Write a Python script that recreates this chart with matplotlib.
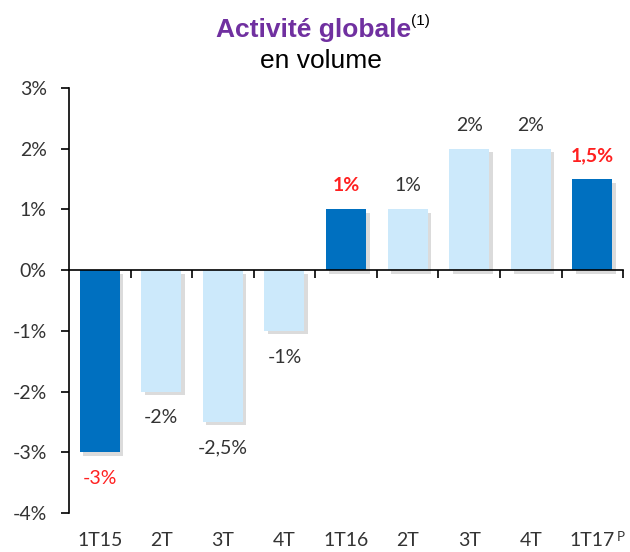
import matplotlib.pyplot as plt
import matplotlib.patheffects as pe
import numpy as np

categories = ['1T15', '2T', '3T', '4T', '1T16', '2T', '3T', '4T', '1T17']
values = [-3, -2, -2.5, -1, 1, 1, 2, 2, 1.5]
labels = ['-3%', '-2%', '-2,5%', '-1%', '1%', '1%', '2%', '2%', '1,5%']
highlight = [True, False, False, False, True, False, False, False, True]
yticks = [-4, -3, -2, -1, 0, 1, 2, 3]

dark = '#0070C0'
light = '#CCE9FB'
font = 'Lato'

fig = plt.figure(figsize=(6.3, 5.52), dpi=100)
ax = fig.add_axes([0.1095, 0.0707, 0.8795, 0.7699])

x = np.arange(len(categories))
shadow = [pe.SimplePatchShadow(offset=(2.5, -2.5), shadow_rgbFace='#999999', alpha=0.35), pe.Normal()]
bars = ax.bar(x, values, width=0.65, color=[dark if h else light for h in highlight], zorder=2)
for b in bars:
    b.set_path_effects(shadow)

for i, (v, lab, h) in enumerate(zip(values, labels, highlight)):
    off = 17 if v > 0 else -19
    color = '#FF2020' if h else '#333333'
    weight = 'bold' if (h and v > 0) else 'normal'
    ax.annotate(lab, (i, v), xytext=(0, off), textcoords='offset points',
                ha='center', va='center', fontsize=14, color=color,
                fontweight=weight, family=font)

ax.set_xlim(-0.5, len(categories) - 0.5)
ax.set_ylim(-4, 3)
ax.set_yticks(yticks)
ax.set_yticklabels([f'{t}%' for t in yticks], family=font, fontsize=14, color='#333333')
ax.tick_params(axis='y', direction='out', length=6, width=1.2, pad=10)

ax.spines['top'].set_visible(False)
ax.spines['right'].set_visible(False)
ax.spines['bottom'].set_position(('data', 0))
ax.spines['left'].set_linewidth(1.2)
ax.spines['bottom'].set_linewidth(1.2)
ax.set_xticks(x)
ax.set_xticklabels([])
ax.tick_params(axis='x', which='major', length=0)
ax.set_xticks(np.arange(0.5, len(categories)), minor=True)
ax.tick_params(axis='x', which='minor', direction='out', length=6, width=1.2)

for i, c in enumerate(categories):
    ax.text(i, -4.46, c, ha='center', va='center', fontsize=14, family=font,
            color='#333333', clip_on=False)
ax.text(len(categories) - 1 + 0.4, -4.39, 'P', ha='left', va='center', fontsize=9.5,
        family=font, color='#333333', clip_on=False)

title = fig.text(0.497, 0.945, 'Activité globale', ha='center', va='center', fontsize=19,
                 fontweight='bold', color='#7030A0', family='Liberation Sans')
fig.text(0.51, 0.89, 'en volume', ha='center', va='center', fontsize=19,
         family='Liberation Sans')
fig.canvas.draw()
ax.annotate('(1)', xy=(1, 1), xycoords=title, xytext=(0.5, 3), textcoords='offset points',
            ha='left', va='top', fontsize=11, family='Liberation Sans', annotation_clip=False)

fig.savefig('out.png', dpi=100)
